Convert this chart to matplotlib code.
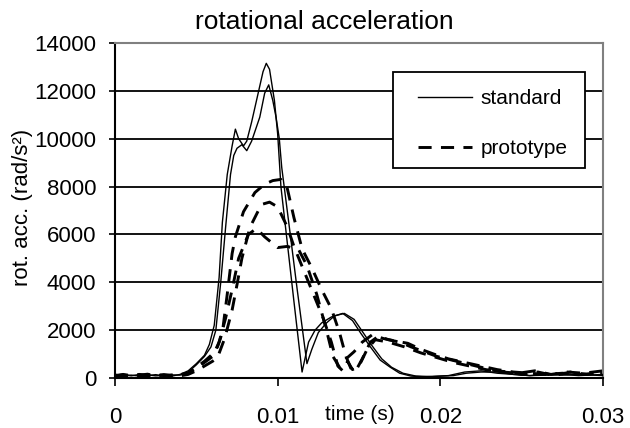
import matplotlib
matplotlib.use("Agg")
import matplotlib.pyplot as plt
from matplotlib import font_manager as fm
from matplotlib.patches import Rectangle

# ---- data (time in s, rot. acc. in rad/s^2) ----
t_std1 = [0, 0.0005, 0.001, 0.0015, 0.002, 0.0025, 0.003, 0.0035, 0.004, 0.0045,
          0.005, 0.0055, 0.0058, 0.0061, 0.0064, 0.0066, 0.0069, 0.0072, 0.0074,
          0.0076, 0.0079, 0.0081, 0.0084, 0.0088, 0.0091, 0.0093, 0.0095, 0.0098,
          0.0100, 0.0102, 0.0106, 0.0110, 0.0115, 0.0119, 0.0123, 0.0127, 0.0133,
          0.0140, 0.0146, 0.0151, 0.0157, 0.0163, 0.0169, 0.0175, 0.0182, 0.0190,
          0.0200, 0.0208, 0.0216, 0.0225, 0.0235, 0.0245, 0.0255, 0.0265, 0.0275,
          0.0285, 0.0300]
y_std1 = [150, 100, 120, 80, 130, 90, 110, 80, 150, 300,
          600, 950, 1400, 2200, 4200, 6500, 8500, 9700, 10400,
          10000, 9700, 9900, 10700, 11900, 12800, 13150, 12900, 11600,
          10200, 8000, 5600, 3200, 250, 1500, 2000, 2300, 2550,
          2700, 2400, 1880, 1300, 750, 460, 200, 80, 50,
          80, 100, 200, 250, 250, 150, 100, 150, 120,
          150, 100]

t_std2 = [0, 0.0005, 0.001, 0.0015, 0.002, 0.0025, 0.003, 0.0035, 0.004, 0.0045,
          0.005, 0.0055, 0.0059, 0.0062, 0.0065, 0.0068, 0.0071, 0.0073, 0.0075,
          0.0078, 0.0081, 0.0084, 0.0089, 0.0092, 0.00945, 0.0097, 0.0099, 0.0101,
          0.01025, 0.0107, 0.0112, 0.0118, 0.0121, 0.0125, 0.0130, 0.0135, 0.0141,
          0.0147, 0.0152, 0.0158, 0.0164, 0.0170, 0.0177, 0.0185, 0.0195, 0.0205,
          0.0215, 0.0225, 0.0235, 0.0245, 0.0255, 0.0265, 0.0275, 0.0285, 0.0300]
y_std2 = [100, 140, 90, 150, 100, 140, 90, 130, 120, 250,
          550, 900, 1300, 2000, 4000, 6300, 8500, 9300, 9600,
          9750, 9500, 9900, 10900, 11900, 12250, 11600, 10900, 10000,
          8800, 6400, 3700, 600, 1200, 1900, 2300, 2600, 2700,
          2450, 1950, 1350, 800, 450, 200, 80, 60, 100,
          250, 300, 200, 150, 100, 120, 150, 100, 150]

t_pro1 = [0, 0.0005, 0.001, 0.0015, 0.002, 0.0025, 0.003, 0.0035, 0.004, 0.0045,
          0.005, 0.0055, 0.006, 0.0063, 0.0066, 0.0069, 0.0072, 0.0074, 0.0079,
          0.0086, 0.0092, 0.0097, 0.0102, 0.0106, 0.0110, 0.0115, 0.0121, 0.0127,
          0.0133, 0.0138, 0.0142, 0.0145, 0.0148, 0.0152, 0.0157, 0.0162, 0.0168,
          0.0175, 0.0182, 0.0190, 0.0198, 0.0207, 0.0216, 0.0225, 0.0234, 0.0243,
          0.0250, 0.0260, 0.0270, 0.0280, 0.0290, 0.0300]
y_pro1 = [100, 150, 80, 120, 160, 90, 130, 100, 120, 200,
          450, 700, 1000, 1300, 1900, 3500, 5200, 5900, 6950,
          7750, 8100, 8250, 8300, 7900, 6700, 5400, 4600, 3700,
          2900, 1900, 900, 400, 300, 800, 1500, 1750, 1600,
          1500, 1300, 1100, 900, 750, 600, 450, 300, 250,
          150, 250, 100, 250, 150, 250]

t_pro2 = [0, 0.0005, 0.001, 0.0015, 0.002, 0.0025, 0.003, 0.0035, 0.004, 0.0045,
          0.005, 0.0055, 0.006, 0.0063, 0.00675, 0.0072, 0.0075, 0.0078, 0.0083,
          0.0090, 0.0095, 0.0100, 0.0106, 0.0110, 0.0116, 0.0122, 0.0128, 0.0133,
          0.0137, 0.0140, 0.0143, 0.0146, 0.0150, 0.0155, 0.0160, 0.0168, 0.0178,
          0.0188, 0.0198, 0.0208, 0.0218, 0.0228, 0.0238, 0.0248, 0.0258, 0.0268,
          0.0278, 0.0288, 0.0300]
y_pro2 = [120, 80, 140, 100, 90, 150, 100, 130, 90, 150,
          300, 500, 700, 850, 1670, 2840, 3900, 5000, 6300,
          7250, 7350, 7150, 6300, 5500, 4500, 3500, 2500, 1500,
          500, 300, 700, 350, 500, 1200, 1600, 1500, 1300,
          1050, 850, 650, 500, 350, 250, 200, 300, 150,
          250, 200, 300]

t_pro3 = [0, 0.0005, 0.001, 0.0015, 0.002, 0.0025, 0.003, 0.0035, 0.004, 0.0045,
          0.005, 0.0055, 0.006, 0.0064, 0.0068, 0.0072, 0.0076, 0.0082, 0.0087,
          0.0092, 0.0100, 0.0106, 0.0113, 0.0118, 0.0124, 0.0130, 0.0134, 0.0138,
          0.0142, 0.0147, 0.0152, 0.0158, 0.0165, 0.0172, 0.0180, 0.0188, 0.0196,
          0.0205, 0.0215, 0.0225, 0.0235, 0.0245, 0.0255, 0.0265, 0.0275, 0.0285,
          0.0300]
y_pro3 = [80, 130, 100, 150, 110, 80, 140, 90, 150, 200,
          400, 650, 900, 1500, 2500, 3700, 5000, 6000, 6250,
          5900, 5450, 5500, 5350, 4700, 3500, 2000, 900, 450,
          800, 1100, 1500, 1800, 1650, 1550, 1450, 1200, 1000,
          800, 650, 500, 350, 250, 200, 150, 200, 150,
          200]

y_ticks = [0, 2000, 4000, 6000, 8000, 10000, 12000, 14000]
x_ticks = [0, 0.01, 0.02, 0.03]
x_labels = ["0", "0.01", "0.02", "0.03"]

names = {f.name for f in fm.fontManager.ttflist}
font = "Liberation Sans Narrow" if "Liberation Sans Narrow" in names else "Liberation Sans"
plt.rcParams["font.family"] = [font, "DejaVu Sans"]

W, H = 630, 428
fig = plt.figure(figsize=(W / 100, H / 100), dpi=100)
ax = fig.add_axes([115 / W, 1 - 378 / H, 488 / W, 335 / H])

for yt in y_ticks[1:-1]:
    ax.axhline(yt, color="black", lw=1.3, zorder=1)

sw = 1.0
dash = dict(lw=2.1, ls=(0, (4.5, 3.2)), color="black")
ax.plot(t_std1, y_std1, color="black", lw=sw, zorder=3, label="standard")
ax.plot(t_std2, y_std2, color="black", lw=sw, zorder=3)
ax.plot(t_pro1, y_pro1, zorder=2, label="prototype", **dash)
ax.plot(t_pro2, y_pro2, zorder=2, **dash)
ax.plot(t_pro3, y_pro3, zorder=2, **dash)

ax.set_xlim(0, 0.03)
ax.set_ylim(0, 14000)
ax.set_yticks(y_ticks)
ax.set_xticks(x_ticks)
ax.set_xticklabels(x_labels)
ax.tick_params(axis="y", direction="out", length=4.5, width=1.2, labelsize=16, pad=9)
ax.tick_params(axis="x", direction="out", length=6, width=1.2, labelsize=16, pad=15)

for s in ["left", "bottom"]:
    ax.spines[s].set_color("black")
    ax.spines[s].set_linewidth(1.5)
for s in ["top", "right"]:
    ax.spines[s].set_color("#808080")
    ax.spines[s].set_linewidth(1.5)

fig.text(324 / W, 1 - 22 / H, "rotational acceleration", ha="center", va="center", fontsize=19)
fig.text(23 / W, 1 - 207 / H, "rot. acc. (rad/s²)", rotation=90, ha="center", va="center", fontsize=16)
fig.text(360 / W, 1 - 414 / H, "time (s)", ha="center", va="center", fontsize=15)

# legend frame drawn separately (wider side padding than legend's borderpad allows)
ax.add_patch(Rectangle((393 / W, 1 - 168 / H), 192 / W, 96 / H, transform=fig.transFigure,
                       facecolor="white", edgecolor="black", lw=1.3, zorder=4, clip_on=False))
leg = ax.legend(loc="upper left", bbox_to_anchor=(418 / W, 1 - 89 / H),
                bbox_transform=fig.transFigure, frameon=False,
                fontsize=15, handlelength=2.6, handletextpad=0.4,
                labelspacing=1.5, borderpad=0, borderaxespad=0)
leg.set_zorder(5)

fig.savefig("out.png", dpi=100)
